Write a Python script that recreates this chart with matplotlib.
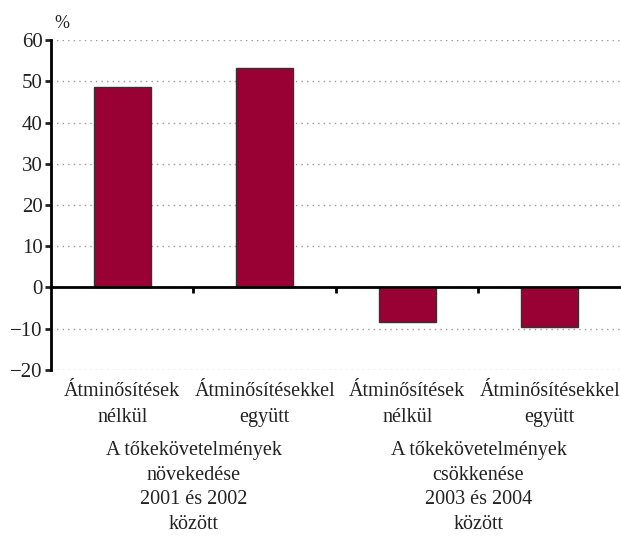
import numpy as np
import matplotlib.pyplot as plt
from matplotlib.transforms import blended_transform_factory

# Adatok
bar_labels = ['Átminősítések\nnélkül', 'Átminősítésekkel\negyütt',
              'Átminősítések\nnélkül', 'Átminősítésekkel\negyütt']
values = [48.7, 53.2, -8.4, -9.6]
group_labels = ['A tőkekövetelmények\nnövekedése\n2001 és 2002\nközött',
                'A tőkekövetelmények\ncsökkenése\n2003 és 2004\nközött']
yticks = [-20, -10, 0, 10, 20, 30, 40, 50, 60]

plt.rcParams['font.family'] = ['Liberation Serif', 'DejaVu Serif']

fig = plt.figure(figsize=(6.21, 5.37), dpi=100)
ax = fig.add_axes([0.082, 0.311, 0.918, 0.6145])

x = np.arange(len(values)) + 0.5
ax.bar(x, values, width=0.4, color='#990033', edgecolor='#333333', linewidth=1, zorder=3)

ax.set_xlim(0, 4)
ax.set_ylim(-20, 60)
ax.set_yticks(yticks)
ax.yaxis.grid(True, linestyle=(0, (1, 3)), color='#999999', linewidth=1, zorder=0)

ax.spines['top'].set_visible(False)
ax.spines['right'].set_visible(False)
ax.spines['left'].set_linewidth(2)
ax.spines['bottom'].set_position(('data', 0))
ax.spines['bottom'].set_linewidth(2)
ax.spines['bottom'].set_zorder(4)

ax.set_xticks([1, 2, 3])
ax.set_xticklabels([])
ax.tick_params(axis='x', direction='out', length=4, width=2)
ax.tick_params(axis='y', direction='out', length=4, width=2, labelsize=15, pad=2, colors='#222222')

trans = blended_transform_factory(ax.transData, ax.transAxes)
for xi, lab in zip(x, bar_labels):
    ax.text(xi, -0.037, lab, transform=trans, ha='center', va='top',
            fontsize=14.5, linespacing=1.45, color='#222222')
for xi, lab in zip([1, 3], group_labels):
    ax.text(xi, -0.215, lab, transform=trans, ha='center', va='top',
            fontsize=14.5, linespacing=1.4, color='#222222')

fig.text(0.1, 0.957, '%', ha='center', va='center', fontsize=13, color='#222222')

fig.savefig('out.png', dpi=100)
